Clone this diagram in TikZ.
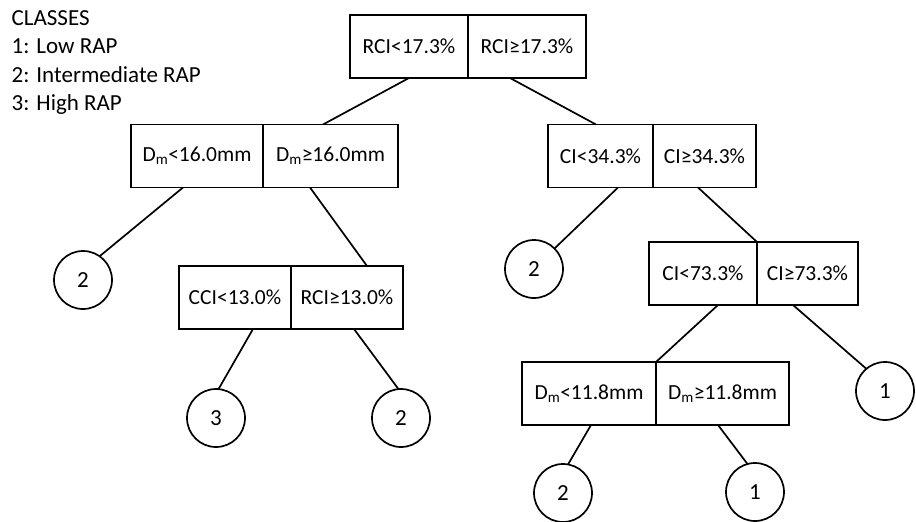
\documentclass[tikz,border=0pt]{standalone}
\usepackage{fontspec}
\setmainfont{Carlito}
\usetikzlibrary{positioning}
\tikzset{
    half/.style = {
        draw,
        shape=rectangle,
        minimum height=63pt,
        inner sep=0pt,
        outer sep=0pt,
        line width=1.8pt,
        font=\fontsize{21.5}{26}\selectfont
    },
    leaf/.style = {
        draw,
        shape=circle,
        minimum size=58pt,
        inner sep=0pt,
        outer sep=0pt,
        line width=1.7pt,
        font=\fontsize{23}{28}\selectfont
    },
    branch/.style = {
        draw,
        line width=1.7pt
    },
}

\begin{document}
\begin{tikzpicture}[x=1pt,y=-1pt]
                \useasboundingbox (0,0) rectangle (916,522);

                \node[anchor=north west, align=left, inner sep=0pt, font=\fontsize{23}{28.5}\selectfont] (classes) at (11.5,10) {CLASSES\\1: Low RAP\\2: Intermediate RAP\\3: High RAP};

                \node[half, minimum width=118pt, anchor=east] (rootL) at (468,46.5) {RCI<17.3\%};
                \node[half, minimum width=118pt, right=0pt of rootL] (rootR) {RCI≥17.3\%};
                \node[half, minimum width=132pt, anchor=east] (dmL) at (263,156) {D\textsubscript{m}<16.0mm};
                \node[half, minimum width=135pt, right=0pt of dmL] (dmR) {D\textsubscript{m}≥16.0mm};
                \node[half, minimum width=105pt, anchor=east] (ciL) at (653,156) {CI<34.3\%};
                \node[half, minimum width=103pt, right=0pt of ciL] (ciR) {CI≥34.3\%};
                \node[half, minimum width=112pt, anchor=east] (cciL) at (291,297.5) {CCI<13.0\%};
                \node[half, minimum width=112pt, right=0pt of cciL] (cciR) {RCI≥13.0\%};
                \node[half, minimum width=108pt, anchor=east] (ciiL) at (757,273.5) {CI<73.3\%};
                \node[half, minimum width=101pt, right=0pt of ciiL] (ciiR) {CI≥73.3\%};
                \node[half, minimum width=134pt, anchor=east] (dmbL) at (656,393.5) {D\textsubscript{m}<11.8mm};
                \node[half, minimum width=133pt, right=0pt of dmbL] (dmbR) {D\textsubscript{m}≥11.8mm};

                \node[leaf] (twoA) at (83,280) {2};
                \node[leaf] (twoB) at (534,269) {2};
                \node[leaf] (three) at (216,418) {3};
                \node[leaf] (twoC) at (401,418) {2};
                \node[leaf] (oneA) at (885,391) {1};
                \node[leaf] (twoD) at (563,493) {2};
                \node[leaf] (oneB) at (755,492) {1};

                \path[branch] (rootL.south) -- ([xshift=-7.5pt]dmR.north);
                \path[branch] ([xshift=-17pt]rootR.south) -- ([xshift=-4.5pt]ciL.north);
                \path[branch] ([xshift=-14pt]dmL.south) -- (twoA.55);
                \path[branch] ([xshift=-20.5pt]dmR.south) -- ([xshift=20pt]cciR.north);
                \path[branch] ([xshift=18pt]cciL.south) -- (three.85);
                \path[branch] ([xshift=7pt]cciR.south) -- (twoC.95);
                \path[branch] ([xshift=17.5pt]ciL.south) -- (twoB.45);
                \path[branch] ([xshift=-6.5pt]ciR.south) -- (ciiL.north east);
                \path[branch] ([xshift=15pt]ciiL.south) -- (dmbL.north east);
                \path[branch] ([xshift=-14.5pt]ciiR.south) -- (oneA.130);
                \path[branch] ([xshift=2pt]dmbL.south) -- (twoD.80);
                \path[branch] ([xshift=-4.5pt]dmbR.south) -- (oneB.105);
            \end{tikzpicture}
\end{document}
